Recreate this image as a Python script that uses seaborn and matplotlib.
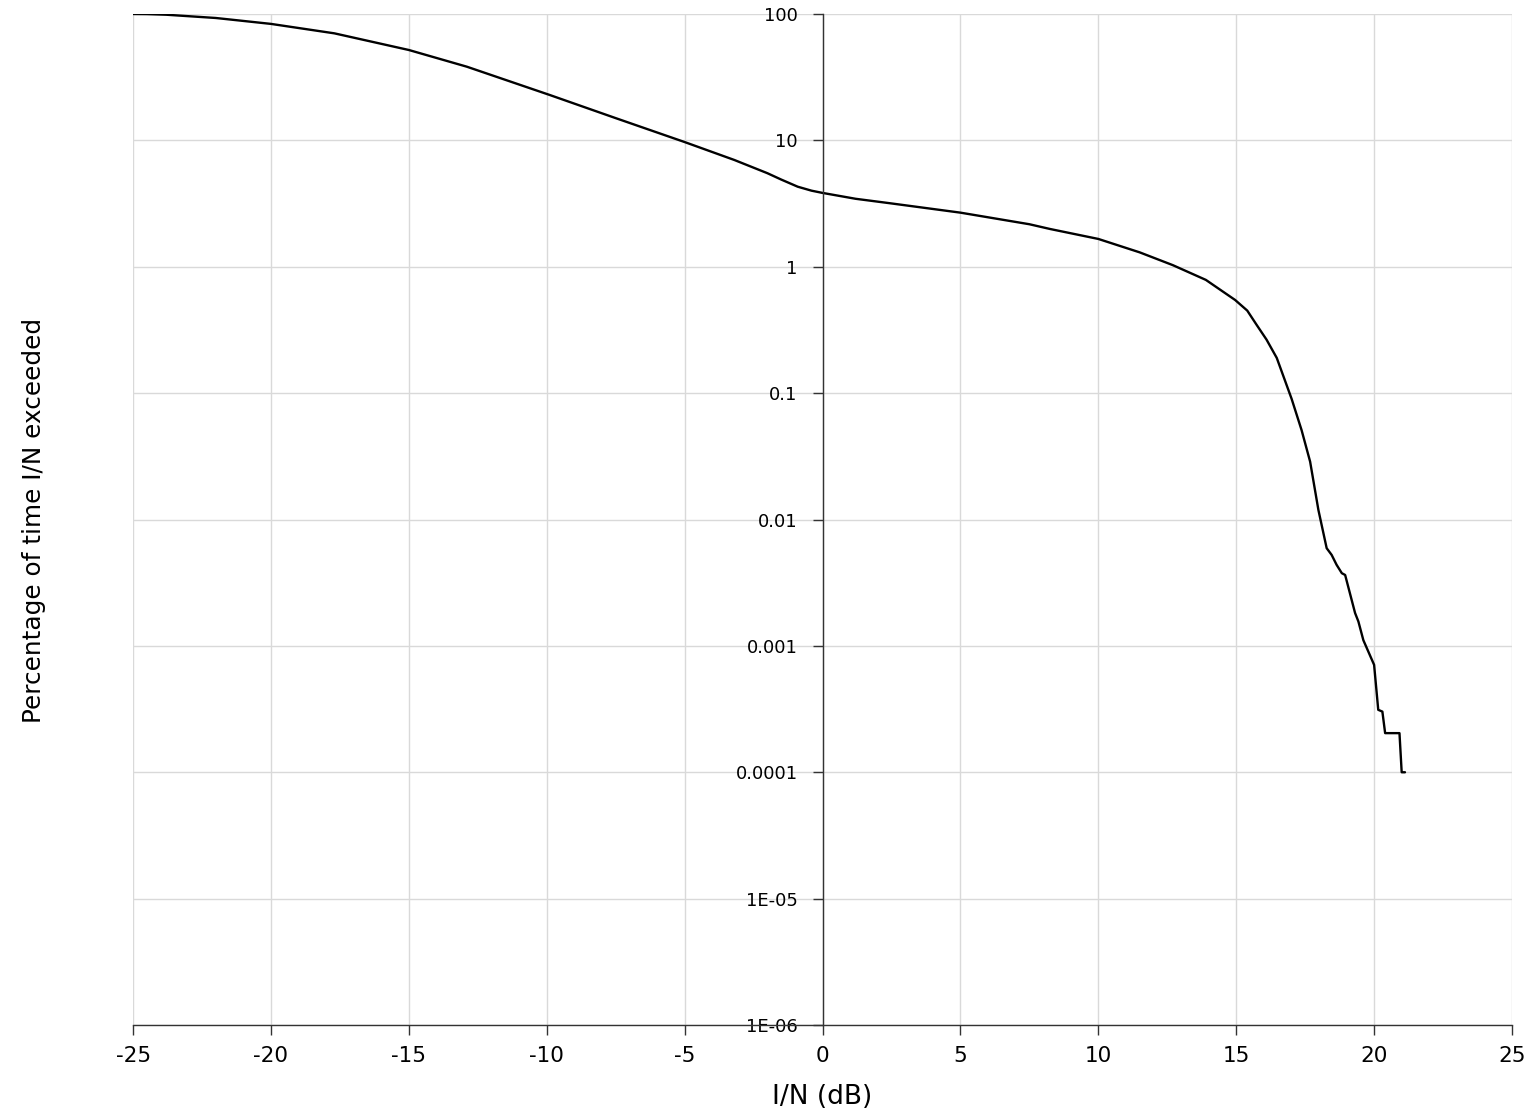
import matplotlib
matplotlib.use("Agg")
import matplotlib.pyplot as plt
import matplotlib.ticker as mticker
import pandas as pd
import seaborn as sns

# ---- data ----
in_db = [-25.0, -24.5, -23.8, -22.0, -20.0, -17.7, -15.0, -12.9, -9.9, -7.5, -5.0, -4.4,
         -3.2, -2.0, -1.5, -0.9, -0.4, 0.0, 1.2, 2.45, 5.0, 7.5, 8.25, 10.0, 11.5, 12.7,
         13.9, 14.96, 15.4, 15.74, 16.1, 16.47, 17.01, 17.37, 17.68, 17.98, 18.28,
         18.46, 18.64, 18.83, 18.95, 19.31, 19.43, 19.61, 20.0, 20.15, 20.3, 20.4, 20.92,
         21.0, 21.12]
pct_exceeded = [100, 99.8, 98.7, 93, 83.5, 70.3, 51.9, 38.3, 22.9, 15.0, 9.7, 8.7,
                7.0, 5.5, 4.9, 4.3, 4.0, 3.84, 3.45, 3.18, 2.68, 2.17, 1.99, 1.66, 1.3, 1.03,
                0.787, 0.546, 0.45, 0.347, 0.265, 0.19, 0.09, 0.051, 0.0287, 0.0119, 0.00593,
                0.00525, 0.00438, 0.00376, 0.00364, 0.00182, 0.00156, 0.00111, 0.000708,
                0.000312, 0.000302, 0.000204, 0.000204, 0.0001, 0.0001]

x_ticks = [-25, -20, -15, -10, -5, 0, 5, 10, 15, 20, 25]
y_ticks = [100, 10, 1, 0.1, 0.01, 0.001, 0.0001, 1e-05, 1e-06]
y_tick_labels = ["100", "10", "1", "0.1", "0.01", "0.001", "0.0001", "1E-05", "1E-06"]

df = pd.DataFrame({"I/N (dB)": in_db, "pct": pct_exceeded})

sns.set_style("white")
plt.rcParams["font.family"] = ["DejaVu Sans"]
plt.rcParams["text.color"] = "black"
plt.rcParams["axes.labelcolor"] = "black"
plt.rcParams["xtick.color"] = "black"
plt.rcParams["ytick.color"] = "black"

fig = plt.figure(figsize=(15.33, 11.2), dpi=100)
ax = fig.add_axes([0.0868, 0.0848, 0.8995, 0.9027])

sns.lineplot(data=df, x="I/N (dB)", y="pct", ax=ax, color="black", linewidth=1.7,
             sort=False, estimator=None)

ax.set_yscale("log")
ax.set_xlim(-25, 25)
ax.set_ylim(1e-06, 100)

ax.set_xticks(x_ticks)
ax.set_xticklabels([str(t) for t in x_ticks])
ax.yaxis.set_major_locator(mticker.FixedLocator(y_ticks))
ax.yaxis.set_major_formatter(mticker.FixedFormatter(y_tick_labels))
ax.yaxis.set_minor_locator(mticker.NullLocator())

ax.grid(True, which="major", color="#d9d9d9", linewidth=1.0)
ax.set_axisbelow(True)

for s in ["top", "right"]:
    ax.spines[s].set_visible(False)
ax.spines["left"].set_position(("data", 0))
ax.spines["left"].set_color("#333333")
ax.spines["left"].set_linewidth(1.0)
ax.spines["bottom"].set_color("#333333")
ax.spines["bottom"].set_linewidth(1.0)

ax.tick_params(axis="y", direction="out", length=7, width=1, color="#333333",
               labelcolor="black", labelsize=13, pad=11, left=True)
ax.tick_params(axis="x", direction="out", length=7, width=1, color="#333333",
               labelcolor="black", labelsize=15.5, pad=8, bottom=True)

ax.set_xlabel("I/N (dB)", fontsize=19, labelpad=13, color="black")
ax.set_ylabel("")
fig.text(0.022, 0.535, "Percentage of time I/N exceeded", rotation=90,
         fontsize=17.8, ha="center", va="center", color="black")

fig.savefig("out.png", dpi=100, facecolor="white")
